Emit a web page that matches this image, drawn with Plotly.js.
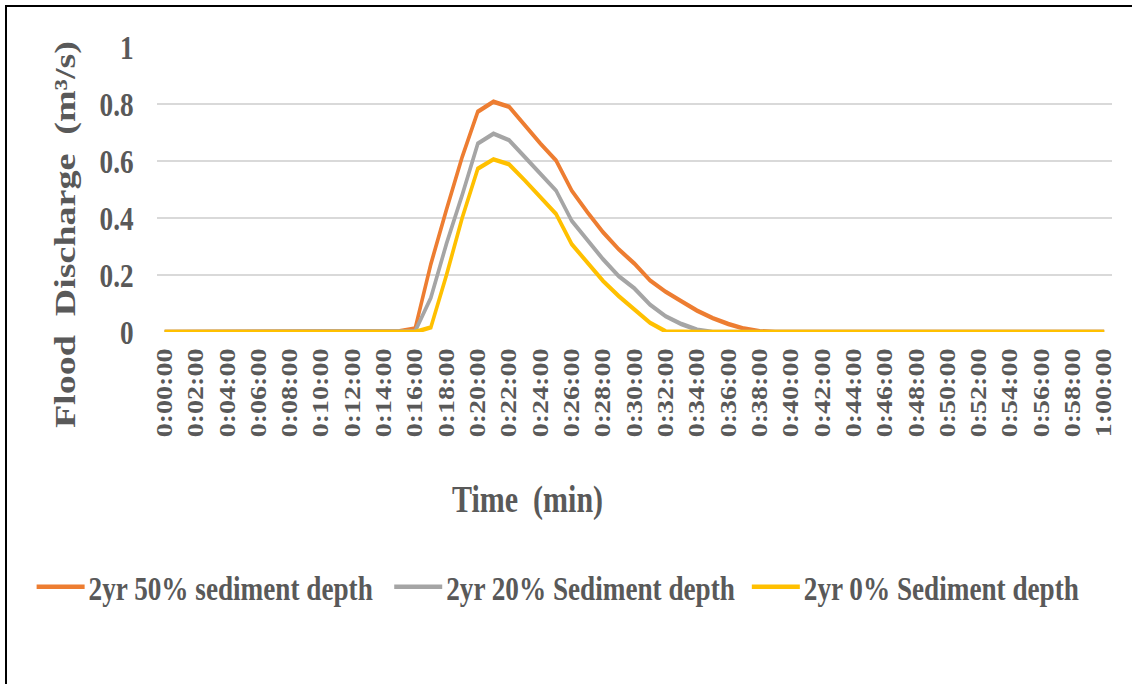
<!DOCTYPE html>
<html>
<head>
<meta charset="utf-8">
<script src="https://cdn.plot.ly/plotly-3.0.1.min.js"></script>
<style>
  html, body { margin: 0; padding: 0; background: #fff; overflow: hidden; }
  #frame { position: absolute; left: 5px; top: 5px; width: 1140px; height: 700px;
           border-left: 2.5px solid #000; border-top: 2.5px solid #000; pointer-events: none; z-index: 5; }
  #wrap { position: absolute; left: 0; top: 0; width: 1415px; height: 684px;
          transform: scaleX(0.8); transform-origin: 0 0; }
</style>
</head>
<body>
<div id="frame"></div>
<div id="wrap"><div id="chart" style="width:1415px;height:684px;"></div></div>
<script>
const timeLabels = [
  "0:00:00","0:01:00","0:02:00","0:03:00","0:04:00","0:05:00","0:06:00","0:07:00","0:08:00","0:09:00",
  "0:10:00","0:11:00","0:12:00","0:13:00","0:14:00","0:15:00","0:16:00","0:17:00","0:18:00","0:19:00",
  "0:20:00","0:21:00","0:22:00","0:23:00","0:24:00","0:25:00","0:26:00","0:27:00","0:28:00","0:29:00",
  "0:30:00","0:31:00","0:32:00","0:33:00","0:34:00","0:35:00","0:36:00","0:37:00","0:38:00","0:39:00",
  "0:40:00","0:41:00","0:42:00","0:43:00","0:44:00","0:45:00","0:46:00","0:47:00","0:48:00","0:49:00",
  "0:50:00","0:51:00","0:52:00","0:53:00","0:54:00","0:55:00","0:56:00","0:57:00","0:58:00","0:59:00",
  "1:00:00"
];
const tickLabels = [
  "0:00:00","0:02:00","0:04:00","0:06:00","0:08:00","0:10:00","0:12:00","0:14:00","0:16:00","0:18:00",
  "0:20:00","0:22:00","0:24:00","0:26:00","0:28:00","0:30:00","0:32:00","0:34:00","0:36:00","0:38:00",
  "0:40:00","0:42:00","0:44:00","0:46:00","0:48:00","0:50:00","0:52:00","0:54:00","0:56:00","0:58:00",
  "1:00:00"
];
const seriesNames = ["2yr 50% sediment depth", "2yr 20% Sediment depth", "2yr 0% Sediment depth"];
const sediment50 = [
  0,0,0,0,0,0,0,0,0,0,
  0,0,0,0,0,0.003,0.012,0.238,0.43,0.614,
  0.773,0.808,0.79,0.725,0.661,0.602,0.496,0.42,0.35,0.29,
  0.24,0.181,0.141,0.108,0.075,0.049,0.028,0.012,0.003,0,
  0,0,0,0,0,0,0,0,0,0,
  0,0,0,0,0,0,0,0,0,0,
  0
];
const sediment20 = [
  0,0,0,0,0,0,0,0,0,0,
  0,0,0,0,0,0,0.003,0.12,0.31,0.48,
  0.661,0.696,0.673,0.614,0.555,0.496,0.39,0.322,0.255,0.196,
  0.153,0.096,0.055,0.028,0.008,0,0,0,0,0,
  0,0,0,0,0,0,0,0,0,0,
  0,0,0,0,0,0,0,0,0,0,
  0
];
const sediment0 = [
  0,0,0,0,0,0,0,0,0,0,
  0,0,0,0,0,0,0,0.016,0.2,0.4,
  0.573,0.606,0.588,0.532,0.473,0.414,0.308,0.244,0.179,0.126,
  0.079,0.032,0.002,0,0,0,0,0,0,0,
  0,0,0,0,0,0,0,0,0,0,
  0,0,0,0,0,0,0,0,0,0,
  0
];
const colors = ["#ED7D31", "#A5A5A5", "#FFC000"];
const FONT = "Liberation Serif, Times New Roman, serif";
const TXT = "#595959";

const allSeries = [sediment50, sediment20, sediment0];
const traces = allSeries.map((ys, i) => ({
  type: "scatter", mode: "lines", x: timeLabels, y: ys, name: seriesNames[i],
  line: { color: colors[i], width: 4.5 }, hoverinfo: "skip"
}));

const layout = {
  width: 1415, height: 684,
  margin: { l: 196, r: 25, t: 47, b: 352 },
  paper_bgcolor: "#ffffff", plot_bgcolor: "#ffffff",
  font: { family: FONT, color: TXT },
  showlegend: true,
  xaxis: {
    type: "category", range: [-0.5, 60.5],
    tickmode: "array", tickvals: tickLabels, ticktext: tickLabels,
    tickangle: -90, tickfont: { family: FONT, size: 28, color: TXT, weight: "bold" },
    showgrid: false, zeroline: false, showline: false, ticks: "",
    ticklabelstandoff: 10, fixedrange: true
  },
  yaxis: {
    range: [0, 1], dtick: 0.2, tick0: 0,
    tickfont: { family: FONT, size: 34, color: TXT, weight: "bold" },
    showgrid: true, gridcolor: "#D9D9D9", gridwidth: 1.8,
    zeroline: false, showline: false, ticks: "", ticklabelstandoff: 28, fixedrange: true
  },
  legend: {
    orientation: "h", x: -0.13, xanchor: "left", y: -0.895, yanchor: "middle",
    font: { family: FONT, size: 34, color: TXT, weight: "bold" },
    entrywidth: 372, entrywidthmode: "pixels", itemwidth: 60,
    bgcolor: "rgba(0,0,0,0)", borderwidth: 0
  },
  annotations: [
    { text: "Flood  Discharge  (m³/s)", xref: "paper", yref: "paper", x: -0.0963, y: 0.34,
      xanchor: "center", yanchor: "middle", textangle: -90, showarrow: false,
      font: { family: FONT, size: 38, color: TXT, weight: "bold" } },
    { text: "Time  (min)", xref: "paper", yref: "paper", x: 0.3885, y: -0.589,
      xanchor: "center", yanchor: "middle", showarrow: false,
      font: { family: FONT, size: 37.5, color: TXT, weight: "bold" } }
  ]
};

Plotly.newPlot("chart", traces, layout, { displayModeBar: false, staticPlot: true });
</script>
</body>
</html>
